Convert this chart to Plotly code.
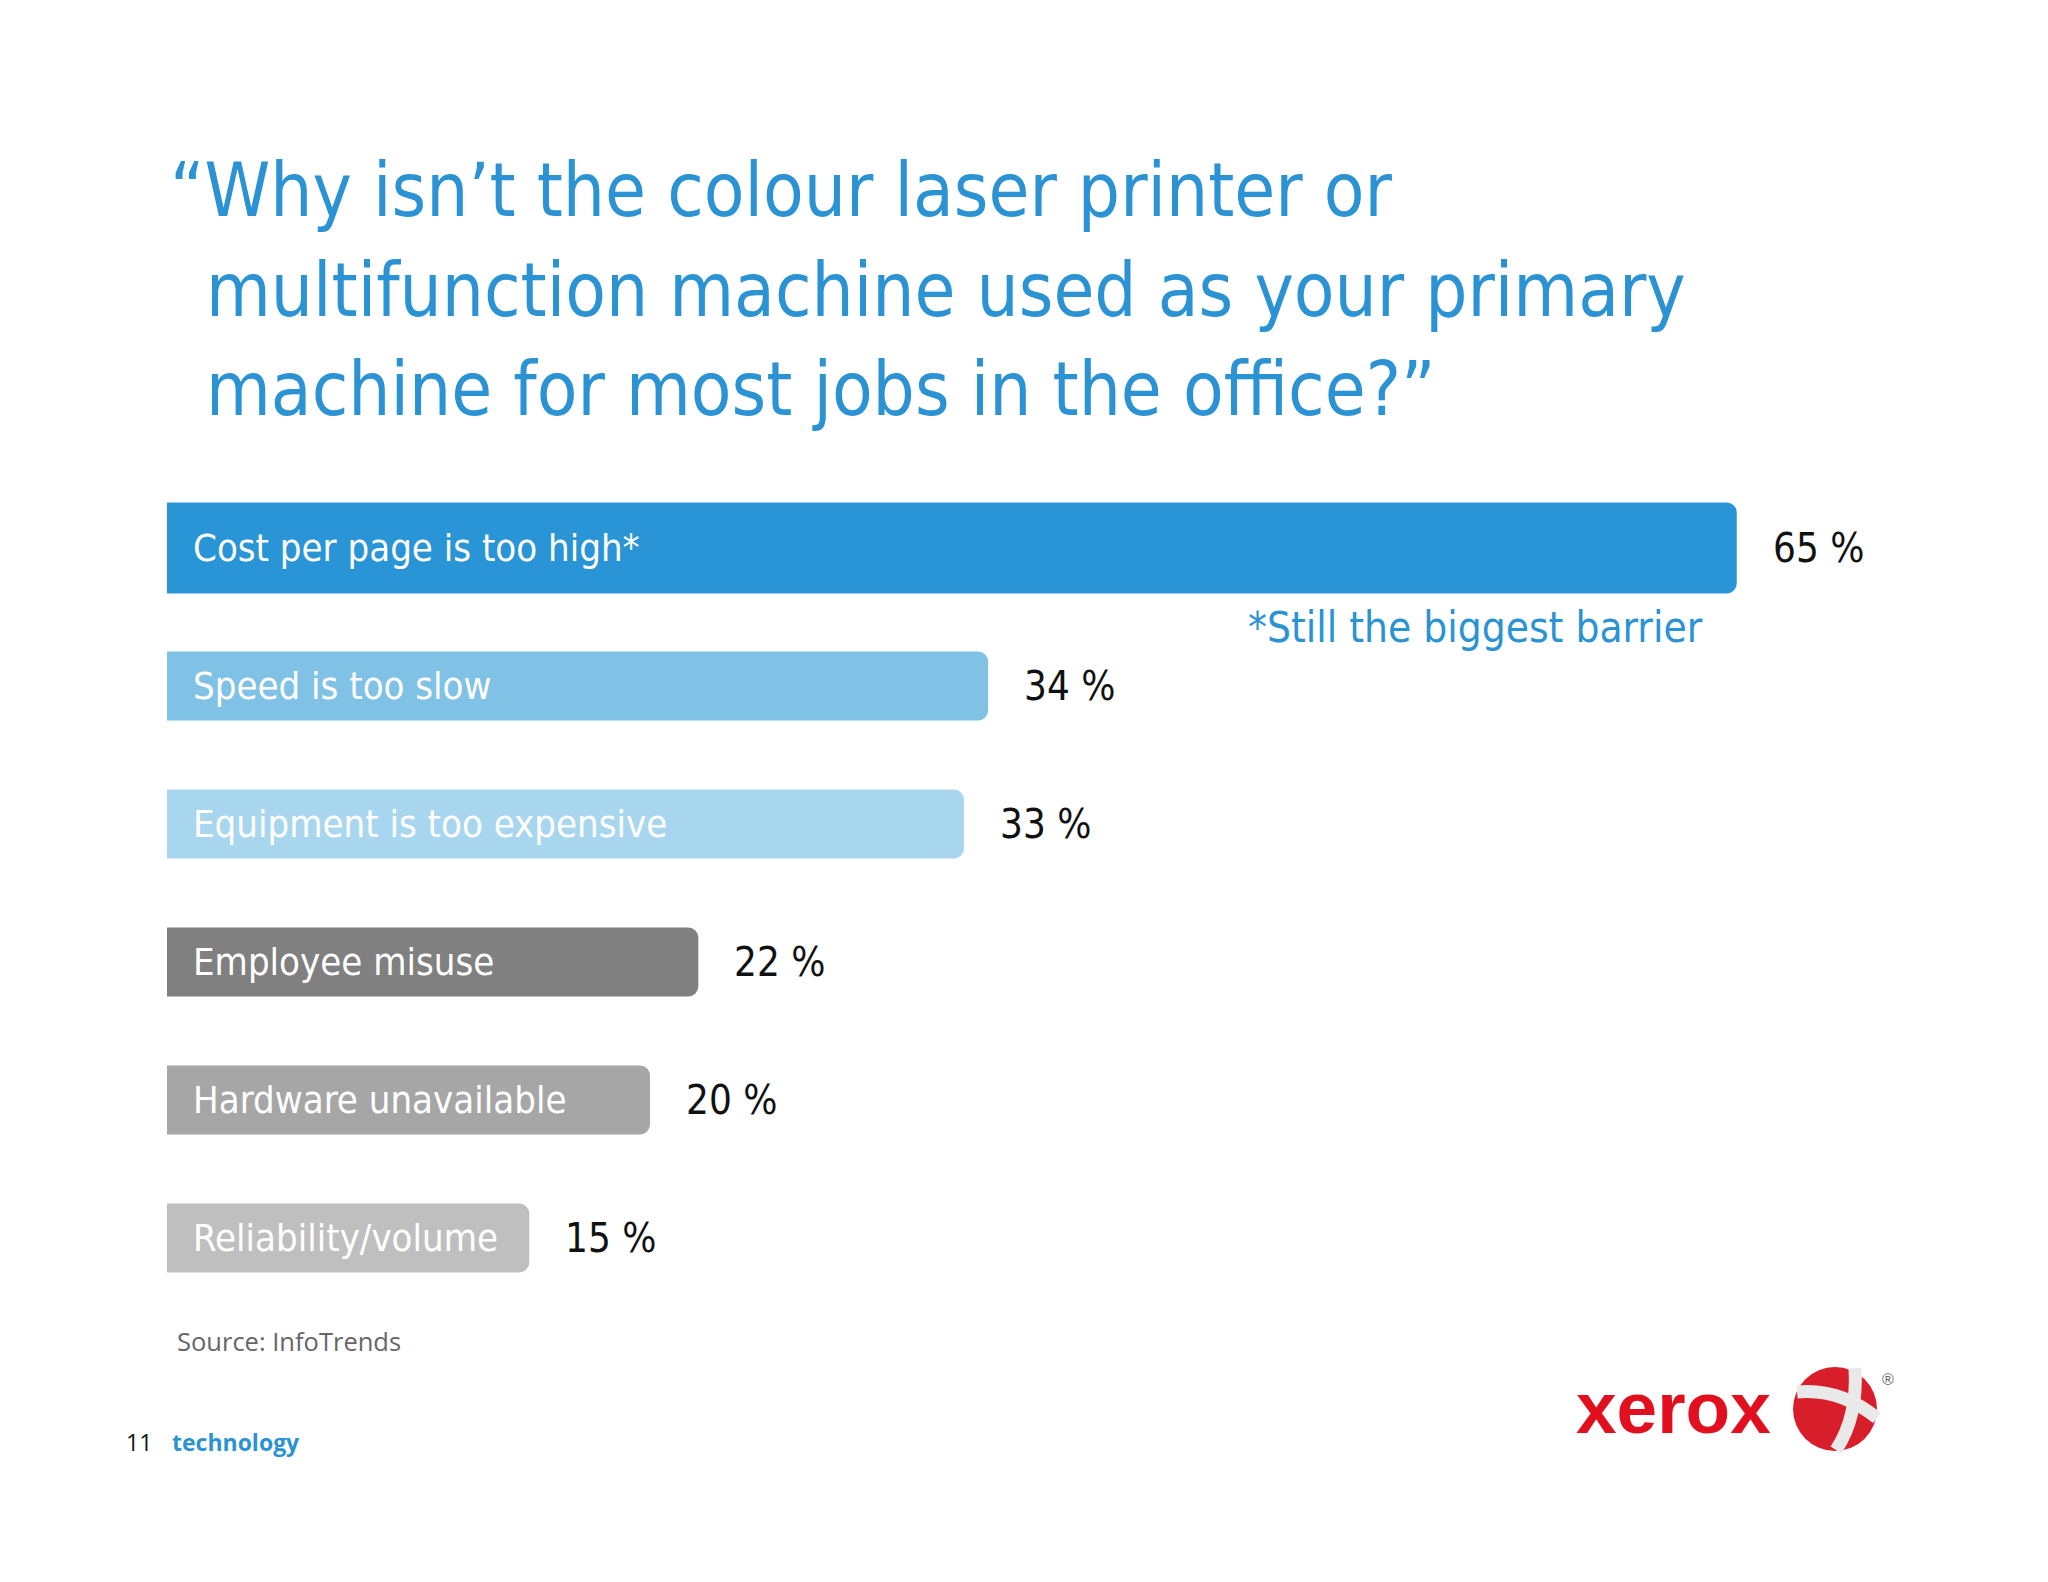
import plotly.graph_objects as go

W, H = 2048, 1582
PAD = 8  # default page body margin
FW, FH = W - 2 * PAD, H - 2 * PAD

# ---- data ----
categories = [
    "Cost per page is too high*",
    "Speed is too slow",
    "Equipment is too expensive",
    "Employee misuse",
    "Hardware unavailable",
    "Reliability/volume",
]
values = [65, 34, 33, 22, 20, 15]
value_suffix = " %"
title_lines = [
    "\u201cWhy isn\u2019t the colour laser printer or",
    "multifunction machine used as your primary",
    "machine for most jobs in the office?\u201d",
]
note_text = "*Still the biggest barrier"
source_text = "Source: InfoTrends"
page_number = "11"
footer_word = "technology"

# ---- styles ----
bar_colors = ["#2994d6", "#80c1e6", "#a9d6ef", "#808080", "#a6a6a6", "#bfbfbf"]
bar_widths = [0.66, 0.5, 0.5, 0.5, 0.5, 0.5]
BLUE = "#2b93d3"
NARROW = "DejaVu Sans Condensed, Liberation Sans Narrow, Open Sans, sans-serif"


def px_x(p):
    return (p - PAD) / FW


def px_y(p):
    return 1 - (p - PAD) / FH


fig = go.Figure(
    go.Bar(
        x=values,
        y=categories,
        orientation="h",
        width=bar_widths,
        marker=dict(color=bar_colors, line=dict(width=0), cornerradius=10),
        hoverinfo="skip",
    )
)

annotations = []
for cat, v in zip(categories, values):
    annotations.append(dict(
        x=0, y=cat, xref="x", yref="y", xanchor="left", yanchor="middle",
        xshift=24, text=cat, showarrow=False,
        font=dict(family=NARROW, size=38, color="white"),
    ))
    annotations.append(dict(
        x=v, y=cat, xref="x", yref="y", xanchor="left", yanchor="middle",
        xshift=34, text=f"{v}{value_suffix}", showarrow=False,
        font=dict(family=NARROW, size=40, color="#111111"),
    ))

# note under the first bar
annotations.append(dict(
    x=values[0], y=categories[0], xref="x", yref="y", xanchor="right", yanchor="middle",
    xshift=-32, yshift=-79, text=note_text, showarrow=False,
    font=dict(family=NARROW, size=42, color=BLUE),
))

# title lines
title_pos = [(168, 190), (204, 290), (204, 389)]
for line, (lx, ly) in zip(title_lines, title_pos):
    annotations.append(dict(
        x=px_x(lx), y=px_y(ly), xref="paper", yref="paper",
        xanchor="left", yanchor="middle", text=line, showarrow=False,
        font=dict(family=NARROW, size=74, color=BLUE),
    ))

# source
annotations.append(dict(
    x=px_x(175), y=px_y(1341), xref="paper", yref="paper", xanchor="left", yanchor="middle",
    text=source_text, showarrow=False,
    font=dict(family="Open Sans, sans-serif", size=25.5, color="#666666"),
))
# footer
annotations.append(dict(
    x=px_x(124), y=px_y(1442), xref="paper", yref="paper", xanchor="left", yanchor="middle",
    text=page_number, showarrow=False,
    font=dict(family="Open Sans, sans-serif", size=23, color="#111111"),
))
annotations.append(dict(
    x=px_x(170), y=px_y(1442), xref="paper", yref="paper", xanchor="left", yanchor="middle",
    text=f"<b>{footer_word}</b>", showarrow=False,
    font=dict(family="Open Sans, sans-serif", size=23, color=BLUE),
))
# xerox logo word
annotations.append(dict(
    x=px_x(1773), y=px_y(1407), xref="paper", yref="paper", xanchor="right", yanchor="middle",
    text="<b>xerox</b>", showarrow=False,
    font=dict(family="Liberation Sans, Arial, sans-serif", size=73, color="#e2101f"),
))
annotations.append(dict(
    x=px_x(1888), y=px_y(1379), xref="paper", yref="paper", xanchor="center", yanchor="middle",
    text="\u00ae", showarrow=False,
    font=dict(family="Liberation Sans, Arial, sans-serif", size=16, color="#666666"),
))

# logo sphere shapes
cx, cy, r = 1835, 1409, 42
shapes = [
    dict(type="circle", xref="paper", yref="paper",
         x0=px_x(cx - r), x1=px_x(cx + r), y0=px_y(cy + r), y1=px_y(cy - r),
         fillcolor="#d91e2b", line=dict(width=0), layer="above"),
]


def qpath(p0, c, p1):
    return (f"M {px_x(p0[0])},{px_y(p0[1])} Q {px_x(c[0])},{px_y(c[1])} "
            f"{px_x(p1[0])},{px_y(p1[1])}")


for p0, c, p1 in [((1797, 1392), (1840, 1388), (1877, 1418)),
                  ((1855, 1368), (1858, 1417), (1836, 1450))]:
    shapes.append(dict(type="path", xref="paper", yref="paper", path=qpath(p0, c, p1),
                       line=dict(color="#e9e9e9", width=13), layer="above"))

fig.update_layout(
    width=FW, height=FH,
    margin=dict(l=0, r=0, t=0, b=0),
    paper_bgcolor="white", plot_bgcolor="white",
    showlegend=False,
    xaxis=dict(range=[0, 75], domain=[px_x(167), px_x(167 + 75 * 24.15)],
               visible=False, fixedrange=True),
    yaxis=dict(type="category", categoryorder="array", categoryarray=categories,
               range=[5.5, -0.5], domain=[px_y(1307), px_y(479)],
               visible=False, fixedrange=True),
    annotations=annotations,
    shapes=shapes,
)

fig.write_html("out.html", config={"displayModeBar": False})
